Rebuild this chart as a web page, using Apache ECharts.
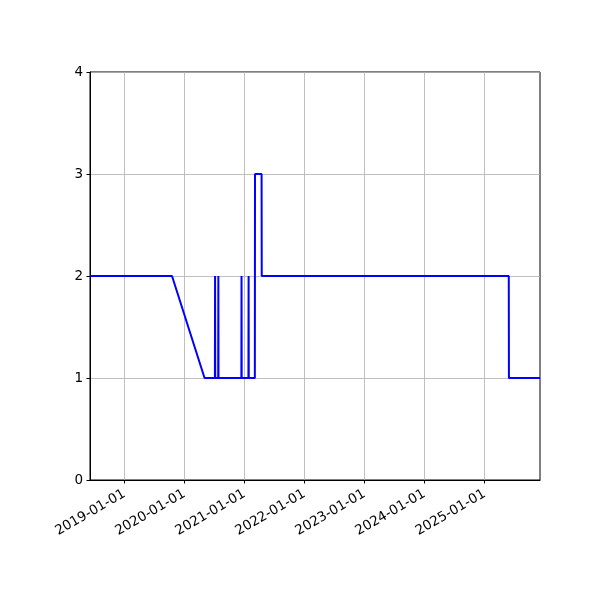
<!DOCTYPE html>
<html>
<head>
<meta charset="utf-8">
<script src="https://cdn.jsdelivr.net/npm/echarts@6/dist/echarts.min.js"></script>
<style>html,body{margin:0;padding:0;background:#fff}#c{width:600px;height:600px}</style>
</head>
<body>
<div id="c"></div>
<script>
var dates = ['2018-06-06','2019-10-18','2020-05-03','2020-07-05','2020-07-06','2020-07-07','2020-07-25','2020-07-26','2020-07-27','2020-12-13','2020-12-14','2020-12-15','2021-01-25','2021-01-26','2021-01-27','2021-03-05','2021-03-06','2021-04-15','2021-04-16','2025-05-28','2025-05-29','2025-12-04'];
var values = [2,2,1,1,2,1,1,2,1,1,2,1,1,2,1,1,3,3,2,2,1,1];
var xTicks = ['2019-01-01','2020-01-01','2021-01-01','2022-01-01','2023-01-01','2024-01-01','2025-01-01'];
var yTicks = [0,1,2,3,4];
var xMin = '2018-06-06', xMax = '2025-12-04';

function ts(s){ var p = s.split('-'); return Date.UTC(+p[0], +p[1]-1, +p[2]); }
function fmt(v){ var d = new Date(v); var m = d.getUTCMonth()+1, dd = d.getUTCDate(); return d.getUTCFullYear()+'-'+(m<10?'0':'')+m+'-'+(dd<10?'0':'')+dd; }

var data = dates.map(function(d,i){ return [ts(d), values[i]]; });
var tickVals = xTicks.map(ts);
var font = 'DejaVu Sans';
var chart = echarts.init(document.getElementById('c'), null, {renderer:'canvas'});
chart.setOption({
  animation: false,
  grid: {left: 90, right: 60, top: 72, bottom: 120, show: true, borderColor: '#000', borderWidth: 1, backgroundColor: 'transparent'},
  xAxis: {
    type: 'value', min: ts(xMin), max: ts(xMax),
    axisLine: {show: true, onZero: false, lineStyle: {color: '#000', width: 1}},
    axisTick: {show: true, length: 3.5, lineStyle: {color: '#000'}, customValues: tickVals},
    axisLabel: {customValues: tickVals, formatter: fmt, rotate: 30, margin: 13, color: '#000', fontFamily: font, fontSize: 13.5},
    splitLine: {show: true, lineStyle: {color: '#b0b0b0', width: 0.8}}
  },
  yAxis: {
    type: 'value', min: yTicks[0], max: yTicks[yTicks.length-1], interval: 1,
    axisLine: {show: true, lineStyle: {color: '#000', width: 1}},
    axisTick: {show: true, length: 3.5, lineStyle: {color: '#000'}},
    axisLabel: {color: '#000', fontFamily: font, fontSize: 13.5, margin: 7},
    splitLine: {show: true, lineStyle: {color: '#b0b0b0', width: 0.8}}
  },
  series: [{
    type: 'line', data: data, showSymbol: false, symbol: 'none',
    lineStyle: {color: '#0000ff', width: 2}
  }]
});
</script>
</body>
</html>
